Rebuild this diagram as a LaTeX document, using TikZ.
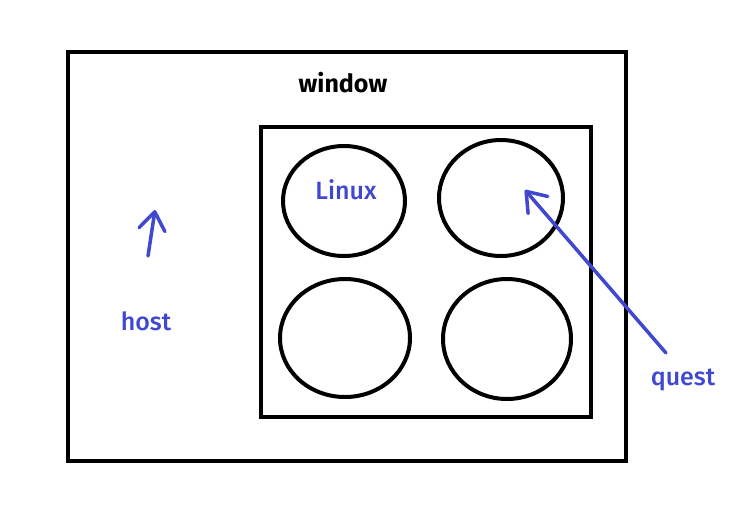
\documentclass[tikz,border=0pt]{standalone}
\usepackage{fontspec}
\setmainfont{Fira Sans}
\newfontfamily\penfont{Fira Sans Medium}
\usetikzlibrary{arrows.meta, shapes.geometric}
\definecolor{penblue}{RGB}{64,72,208}

\begin{document}
\begin{tikzpicture}[x=1pt, y=-1pt, line width=4pt,
  vm/.style={draw, ellipse, inner sep=0pt},
  lbl/.style={text=penblue, font=\penfont\fontsize{25}{30}\selectfont},
  pen/.style={draw=penblue, line width=3.5pt, line cap=round, -{Straight Barb[length=18pt, width=26pt, line width=3.5pt, round]}}]
                \useasboundingbox (0,0) rectangle (747,515);
                \draw (68,52) rectangle (626,461);
                \draw (261,127) rectangle (591,417);
                \node[vm, minimum width=122pt, minimum height=110pt] (vma) at (344,201) {};
                \node[vm, minimum width=124pt, minimum height=116pt] (vmb) at (501,198) {};
                \node[vm, minimum width=130pt, minimum height=118pt] (vmc) at (345,338) {};
                \node[vm, minimum width=128pt, minimum height=120pt] (vmd) at (507,339) {};
                \node[font=\bfseries\fontsize{25}{30}\selectfont] (window) at (343,83) {window};
                \node[lbl] (linux) at (346,190) {Linux};
                \node[lbl] (host) at (146,321) {host};
                \node[lbl] (quest) at (683,380) {quest};
                \coordinate (hosttail) at (148,256);
                \coordinate (hosttip) at (155,210);
                \coordinate (questtail) at (666,353);
                \coordinate (questtip) at (525,190);
                \draw[pen] (hosttail) -- (hosttip);
                \draw[pen] (questtail) -- (questtip);
                \end{tikzpicture}
\end{document}
